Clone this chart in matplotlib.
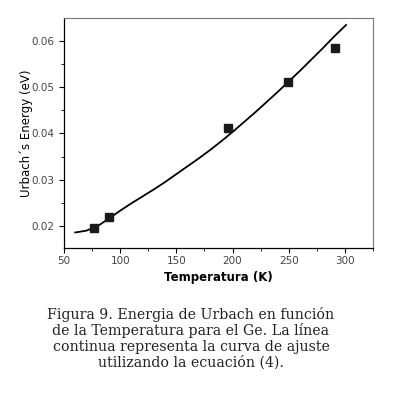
import matplotlib
matplotlib.use("Agg")
import matplotlib.pyplot as plt
from matplotlib.ticker import MultipleLocator

# Measured data (squares)
temp_pts = [77, 90, 196, 249, 291]
energy_pts = [0.0196, 0.0219, 0.0411, 0.0511, 0.0585]

# Fit curve
temp_fit = [60, 70, 80, 90, 100, 110, 120, 130, 140, 150, 160, 170, 180, 190, 200,
            210, 220, 230, 240, 250, 260, 270, 280, 290, 301]
energy_fit = [0.0186, 0.0190, 0.0200, 0.0216, 0.0233, 0.0249, 0.0264, 0.0279, 0.0295,
              0.0312, 0.0329, 0.0346, 0.0364, 0.0383, 0.0403, 0.0424, 0.0445, 0.0467,
              0.0489, 0.0512, 0.0535, 0.0559, 0.0583, 0.0608, 0.0634]

xticks = [50, 100, 150, 200, 250, 300]
yticks = [0.02, 0.03, 0.04, 0.05, 0.06]
ytick_labels = ["0.02", "0.03", "0.04", "0.05", "0.06"]

caption = ("Figura 9. Energia de Urbach en función\n"
           "de la Temperatura para el Ge. La línea\n"
           "continua representa la curva de ajuste\n"
           "utilizando la ecuación (4).")

fig = plt.figure(figsize=(4.04, 3.99), dpi=100)
ax = fig.add_axes([64/404, 1-248/399, (373-64)/404, (248-18)/399])

ax.plot(temp_fit, energy_fit, color="black", lw=1.3)
ax.plot(temp_pts, energy_pts, ls="none", marker="s", ms=6, color="#1a1a1a")

ax.set_xlim(50, 325)
ax.set_ylim(0.01525, 0.0649)
ax.set_xticks(xticks)
ax.set_yticks(yticks)
ax.set_yticklabels(ytick_labels)
ax.xaxis.set_minor_locator(MultipleLocator(25))
ax.yaxis.set_minor_locator(MultipleLocator(0.005))
ax.tick_params(which="major", direction="out", length=3.5, width=0.8,
               labelsize=7.5, labelcolor="#444444", top=False, right=False)
ax.tick_params(axis="x", which="major", pad=2)
ax.tick_params(which="minor", direction="out", length=2, width=0.6, top=False, right=False)
for s in ["top", "right"]:
    ax.spines[s].set_color("#777777")
    ax.spines[s].set_linewidth(0.8)
for s in ["left", "bottom"]:
    ax.spines[s].set_linewidth(0.9)

ax.set_xlabel("Temperatura (K)", fontsize=8.5, fontweight="bold", labelpad=4)
ax.set_ylabel("Urbach´s Energy (eV)", fontsize=8.5, labelpad=-1)

fig.text(191/404, 1-338/399, caption, ha="center", va="center",
         family="DejaVu Serif", fontsize=10.2, linespacing=1.12, color="#222222")

fig.savefig("out.png", dpi=100)
